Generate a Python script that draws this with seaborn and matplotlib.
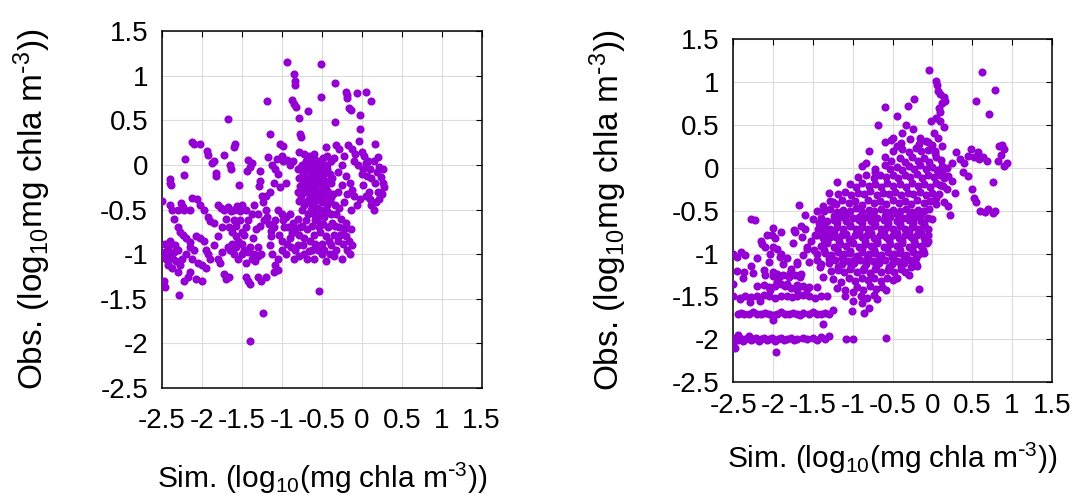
import matplotlib
matplotlib.use("Agg")
import matplotlib.pyplot as plt
import seaborn as sns
import pandas as pd

# (sim, obs) pairs, log10 mg chla m-3
left_points = [
    (-0.93, 1.16), (-0.51, 1.13), (-0.85, 1.02), (-0.84, 0.94), (-0.83, 0.9),
    (-0.33, 0.92), (-1.18, 0.72), (-0.87, 0.73), (-0.85, 0.68), (-0.82, 0.65),
    (-0.51, 0.76), (-0.67, 0.61), (-0.2, 0.82), (-0.19, 0.78), (-0.18, 0.75),
    (-0.06, 0.81), (0.05, 0.82), (0.12, 0.72), (-0.16, 0.64), (-0.13, 0.62),
    (-0.02, 0.56), (-0.79, 0.53), (-0.33, 0.48), (-1.68, 0.52), (-1.15, 0.35),
    (-0.77, 0.35), (-0.76, 0.31), (-0.02, 0.4), (-0.03, 0.27), (-1.02, 0.23),
    (-0.98, 0.21), (0.16, 0.23), (-2.13, 0.26), (-2.1, 0.23), (-2.02, 0.24),
    (-1.59, 0.23), (-1.6, 0.2), (-1.94, 0.16), (-1.92, 0.11),
    (-2.4, -0.16), (-2.4, -0.2), (-2.39, -0.22), (-2.21, 0.07), (-2.22, -0.11),
    (-1.85, 0.04), (-1.87, 0.02), (-1.82, -0.09), (-1.83, -0.12), (-1.73, 0.11),
    (-1.65, 0.0), (-1.64, -0.04), (-1.54, -0.22), (-1.42, 0.06), (-1.44, -0.07),
    (-1.4, -0.02), (-1.38, 0.02), (-1.27, -0.07), (-1.29, -0.24), (-1.28, -0.18),
    (-1.17, 0.09), (-1.06, 0.07), (-1.0, 0.1), (-0.98, 0.04), (-0.94, 0.06),
    (-0.9, 0.0), (-0.86, 0.05), (-1.12, 0.0), (-1.08, -0.05), (-1.05, -0.1),
    (-1.1, -0.2), (-1.02, -0.25), (-0.95, -0.2), (-1.15, -0.3), (-1.2, -0.35),
    (-0.79, 0.15), (-0.72, 0.12), (-0.66, 0.1), (-0.6, 0.12), (-0.53, 0.05),
    (-0.48, 0.08), (-0.45, 0.2), (-0.43, 0.0), (-0.8, -0.05), (-0.76, -0.02),
    (-0.72, -0.08), (-0.68, -0.03), (-0.64, -0.1), (-0.6, -0.05), (-0.56, -0.12),
    (-0.52, -0.08), (-0.48, -0.15), (-0.44, -0.05), (-0.4, -0.1), (-0.78, -0.15),
    (-0.74, -0.2), (-0.7, -0.16), (-0.66, -0.22), (-0.62, -0.18), (-0.58, -0.25),
    (-0.54, -0.2), (-0.5, -0.28), (-0.46, -0.22), (-0.42, -0.3), (-0.38, -0.2),
    (-0.8, -0.3), (-0.76, -0.35), (-0.7, -0.3), (-0.66, -0.38), (-0.62, -0.32),
    (-0.58, -0.4), (-0.54, -0.35), (-0.5, -0.42), (-0.46, -0.36), (-0.4, -0.4),
    (-0.36, -0.32), (-0.72, -0.45), (-0.64, -0.5), (-0.56, -0.48), (-0.6, -0.55),
    (-0.68, -0.25), (-0.52, -0.3), (-0.44, -0.45), (-0.74, -0.1), (-0.62, 0.02),
    (-0.56, 0.0), (-0.5, -0.02), (-0.7, 0.05),
    (-0.75, 0.0), (-0.71, -0.05), (-0.67, 0.03), (-0.63, -0.06), (-0.59, 0.06),
    (-0.55, -0.04), (-0.51, 0.02), (-0.47, -0.08), (-0.43, 0.1), (-0.39, 0.04),
    (-0.37, -0.14), (-0.77, -0.24), (-0.73, -0.27), (-0.69, -0.2), (-0.65, -0.3),
    (-0.61, -0.24), (-0.57, -0.32), (-0.53, -0.16), (-0.49, -0.34), (-0.45, -0.27),
    (-0.41, -0.18), (-0.39, -0.36), (-0.79, -0.4), (-0.75, -0.5), (-0.7, -0.42),
    (-0.67, -0.55), (-0.63, -0.44), (-0.59, -0.62), (-0.55, -0.56), (-0.51, -0.5),
    (-0.47, -0.58), (-0.43, -0.52), (-0.38, -0.55), (-0.34, -0.45),
    (-0.32, 0.22), (-0.28, 0.18), (-0.22, 0.1), (-0.25, 0.0), (-0.3, -0.08),
    (-0.2, -0.12), (-0.15, -0.2), (-0.25, -0.22), (-0.3, -0.3), (-0.18, -0.33),
    (-0.12, -0.28), (-0.22, -0.42), (-0.28, -0.48), (-0.14, -0.5), (-0.32, -0.55),
    (-0.1, 0.05), (-0.12, 0.18), (-0.08, 0.12), (-0.35, 0.08), (-0.17, 0.22),
    (-0.26, -0.6), (-0.2, -0.65),
    (0.0, 0.15), (0.03, 0.1), (0.05, 0.02), (0.1, -0.05), (0.0, -0.1),
    (0.07, -0.12), (0.12, -0.14), (0.02, -0.22), (0.15, 0.05), (0.2, 0.09),
    (0.22, -0.02), (0.24, -0.13), (0.26, -0.2), (0.28, -0.25), (0.25, -0.32),
    (0.22, -0.38), (0.18, -0.42), (0.12, -0.45), (0.15, -0.5), (0.05, -0.35),
    (-0.02, -0.38), (0.09, -0.3), (0.2, -0.3), (0.27, -0.05),
    (-0.1, -0.35), (-0.06, -0.45), (0.02, -0.05), (0.08, 0.05), (0.16, -0.2),
    (-0.05, 0.0), (0.1, -0.38), (0.19, -0.08),
    (-1.25, -0.35), (-1.23, -0.42), (-1.2, -0.5), (-1.18, -0.58), (-1.16, -0.66),
    (-1.13, -0.74), (-1.1, -0.7), (-1.05, -0.5), (-1.0, -0.55), (-0.98, -0.62),
    (-0.95, -0.58), (-0.92, -0.7), (-0.9, -0.55), (-0.86, -0.65), (-0.84, -0.72),
    (-0.8, -0.6), (-0.78, -0.78), (-0.75, -0.68), (-0.72, -0.82), (-0.68, -0.72),
    (-0.65, -0.85), (-0.62, -0.68), (-0.6, -0.78), (-0.56, -0.62), (-0.52, -0.75),
    (-0.48, -0.66), (-0.45, -0.8), (-0.42, -0.7), (-0.38, -0.9), (-0.35, -0.78),
    (-0.3, -0.85), (-0.28, -0.7), (-0.24, -0.88), (-0.2, -0.8), (-0.18, -0.95),
    (-0.14, -0.72), (-0.15, -1.0), (-0.25, -1.05), (-0.35, -1.02), (-0.32, -0.95),
    (-0.4, -1.0), (-0.5, -1.0), (-0.55, -0.95), (-0.6, -1.05), (-0.68, -1.05),
    (-0.72, -1.0), (-0.78, -1.02), (-0.85, -1.05), (-0.88, -0.92), (-0.95, -1.0),
    (-1.0, -0.95), (-1.05, -1.05), (-1.08, -1.12), (-1.12, -1.0), (-1.15, -0.9),
    (-1.0, -0.85), (-1.1, -1.2), (-1.05, -1.18), (-0.62, -0.95), (-0.45, -1.08),
    (-0.8, -0.9), (-0.9, -0.82),
    (-1.14, -0.8), (-1.08, -0.62), (-1.03, -0.78), (-0.97, -0.7), (-0.93, -0.88),
    (-0.87, -0.76), (-0.83, -0.95), (-0.77, -0.7), (-0.73, -0.9), (-0.7, -0.62),
    (-0.66, -0.96), (-0.58, -0.88), (-0.54, -0.7), (-0.5, -0.88), (-0.47, -0.95),
    (-0.41, -0.85), (-0.37, -0.65), (-0.33, -0.68), (-0.27, -0.78), (-0.22, -0.72),
    (-0.16, -0.85), (-0.12, -0.9),
    (-1.8, -0.45), (-1.76, -0.48), (-1.72, -0.5), (-1.68, -0.47), (-1.64, -0.52),
    (-1.6, -0.5), (-1.56, -0.46), (-1.52, -0.52), (-1.5, -0.45), (-1.7, -0.6),
    (-1.66, -0.7), (-1.62, -0.75), (-1.58, -0.8), (-1.55, -0.85), (-1.5, -0.88),
    (-1.48, -0.78), (-1.45, -0.7), (-1.42, -0.62), (-1.4, -0.92), (-1.36, -0.82),
    (-1.35, -1.0), (-1.32, -0.72), (-1.3, -0.92), (-1.65, -0.95), (-1.6, -1.0),
    (-1.55, -1.05), (-1.5, -1.0), (-1.45, -1.1), (-1.42, -0.98), (-1.38, -1.05),
    (-1.34, -1.08), (-1.3, -1.02), (-1.26, -1.0), (-1.75, -0.98), (-1.8, -1.05),
    (-1.78, -1.1), (-1.72, -1.22), (-1.7, -1.28), (-1.66, -1.25), (-1.45, -1.25),
    (-1.43, -1.3), (-1.4, -1.33), (-1.3, -1.25), (-1.26, -1.3), (-1.2, -1.25),
    (-1.6, -0.62), (-1.38, -0.55),
    (-1.35, -0.45), (-1.3, -0.55), (-1.22, -0.62), (-1.28, -0.68), (-1.45, -0.5),
    (-1.52, -0.62), (-1.57, -0.68), (-1.5, -0.75), (-1.47, -0.95), (-1.57, -0.92),
    (-1.62, -0.88), (-1.68, -0.92), (-1.85, -0.65), (-1.8, -0.8), (-1.75, -0.7),
    (-2.5, -0.4), (-2.4, -0.45), (-2.38, -0.5), (-2.26, -0.43), (-2.24, -0.47),
    (-2.22, -0.5), (-2.12, -0.37), (-2.06, -0.38), (-2.02, -0.45), (-1.98, -0.5),
    (-1.93, -0.58), (-1.9, -0.63), (-2.3, -0.7), (-2.28, -0.75), (-2.24, -0.78),
    (-2.2, -0.82), (-2.15, -0.86), (-2.5, -1.0), (-2.46, -0.97), (-2.44, -1.02),
    (-2.42, -0.92), (-2.4, -1.0), (-2.36, -1.05), (-2.32, -1.08), (-2.28, -1.12),
    (-2.25, -1.05), (-2.42, -1.12), (-2.38, -1.15), (-2.46, -0.88), (-2.4, -0.85),
    (-2.34, -0.9), (-2.15, -0.92), (-2.1, -0.95), (-2.08, -0.8), (-2.02, -0.82),
    (-1.98, -0.85), (-1.95, -0.95), (-2.05, -1.1), (-2.0, -1.12), (-1.95, -1.15),
    (-2.15, -1.2), (-2.08, -1.28), (-2.0, -1.3), (-2.22, -1.3), (-2.48, -1.3),
    (-2.46, -1.37), (-2.29, -1.46), (-1.92, -1.0), (-1.9, -1.05), (-1.85, -0.9),
    (-2.3, -1.2), (-2.18, -1.25),
    (-2.45, -1.05), (-2.35, -0.98), (-2.3, -0.95), (-2.2, -1.0), (-2.12, -1.05),
    (-2.35, -0.6), (-2.3, -0.5), (-2.15, -0.5),
    (-1.23, -1.66), (-1.4, -1.97), (-0.54, -1.41),
]

right_points = [
    # flat rows at the detection floor
    (-2.5, -2.0), (-2.47, -1.98), (-2.44, -2.01), (-2.41, -1.99), (-2.38, -2.02),
    (-2.35, -2.0), (-2.32, -1.98), (-2.28, -2.01), (-2.25, -2.0), (-2.22, -1.99),
    (-2.18, -2.02), (-2.15, -2.0), (-2.12, -1.98), (-2.08, -2.01), (-2.05, -2.0),
    (-2.01, -1.99), (-1.98, -2.02), (-1.94, -2.0), (-1.9, -1.98), (-1.86, -2.01),
    (-1.82, -2.0), (-1.78, -1.99), (-1.74, -2.01), (-1.7, -2.0), (-1.62, -1.98),
    (-1.58, -2.0), (-1.5, -1.99), (-1.45, -2.01), (-1.4, -1.97), (-1.35, -2.0),
    (-1.3, -1.96), (-1.08, -2.0), (-1.0, -2.0),
    (-2.5, -2.07), (-2.48, -2.1), (-1.97, -2.15), (-2.44, -1.95), (-2.3, -1.96),
    (-2.44, -1.7), (-2.4, -1.69), (-2.36, -1.71), (-2.3, -1.7), (-2.25, -1.68),
    (-2.2, -1.7), (-2.15, -1.71), (-2.1, -1.69), (-2.05, -1.7), (-2.0, -1.72),
    (-1.95, -1.7), (-1.9, -1.68), (-1.85, -1.7), (-1.8, -1.71), (-1.75, -1.69),
    (-1.7, -1.7), (-1.66, -1.72), (-1.62, -1.69), (-1.55, -1.7), (-1.5, -1.68),
    (-1.45, -1.7), (-1.4, -1.71), (-1.35, -1.69), (-1.3, -1.7), (-1.25, -1.66),
    (-1.01, -1.67), (-0.86, -1.69), (-0.8, -1.63), (-1.38, -1.82), (-2.0, -1.78),
    (-2.5, -1.5), (-2.42, -1.52), (-2.35, -1.49), (-2.28, -1.51), (-2.2, -1.5),
    (-2.12, -1.48), (-2.05, -1.5), (-1.98, -1.52), (-1.9, -1.5), (-1.82, -1.49),
    (-1.76, -1.51), (-1.7, -1.5), (-1.62, -1.48), (-1.55, -1.5), (-1.48, -1.52),
    (-1.4, -1.5), (-1.32, -1.49), (-1.1, -1.5), (-1.0, -1.55), (-0.88, -1.58),
    (-2.2, -1.38), (-2.12, -1.37), (-2.05, -1.39), (-1.98, -1.38), (-1.9, -1.36),
    (-1.85, -1.38), (-1.78, -1.4), (-1.7, -1.37), (-1.62, -1.38), (-1.55, -1.39),
    (-2.1, -1.25), (-2.0, -1.26), (-1.95, -1.24), (-1.88, -1.25), (-1.8, -1.27),
    (-1.72, -1.25), (-1.65, -1.24),
    # scattered low-sim points
    (-2.5, -1.0), (-2.4, -0.98), (-2.35, -1.02), (-2.28, -0.6), (-2.28, -1.15),
    (-2.2, -1.05), (-2.15, -0.85), (-2.1, -0.92), (-2.05, -1.1), (-2.02, -0.78),
    (-1.98, -0.82), (-1.95, -0.95), (-1.9, -1.0), (-1.88, -1.12), (-1.82, -1.05),
    (-1.78, -1.18), (-1.75, -0.88), (-1.72, -0.75), (-1.68, -0.43), (-1.65, -0.68),
    (-1.6, -0.72), (-1.58, -0.95), (-1.55, -1.1), (-1.52, -0.85), (-1.5, -0.6),
    (-1.48, -0.78), (-1.45, -1.0), (-1.42, -0.65), (-1.4, -1.12), (-1.38, -0.9),
    (-1.35, -0.75), (-2.45, -1.2), (-2.5, -1.35), (-2.38, -1.28), (-2.0, -0.7),
    (-1.9, -0.75), (-1.62, -1.02), (-1.7, -1.1), (-1.6, -0.55), (-1.45, -0.5),
    (-1.38, -0.45), (-1.3, -0.3), (-1.25, -0.4), (-1.2, -0.17),
    (-2.45, -1.04), (-2.23, -0.61), (-2.14, -0.89), (-2.08, -0.79), (-2.0, -0.92),
    (-2.04, -1.0), (-1.91, -1.04), (-2.37, -1.21), (-2.25, -1.23), (-2.12, -1.19),
    (-2.0, -1.21), (-1.93, -1.27), (-1.79, -1.23), (-1.66, -1.27), (-1.7, -1.12),
    (-1.74, -0.73), (-1.64, -0.81), (-1.58, -0.92), (-1.49, -0.96), (-1.45, -1.08),
    (-1.41, -1.16), (-1.37, -1.27), (-1.45, -1.39), (-1.58, -1.41), (-1.7, -1.43),
    (-1.83, -1.35), (-1.95, -1.33), (-2.04, -1.43), (-2.16, -1.55), (-2.29, -1.56),
    (-2.41, -1.53), (-1.33, -0.73), (-1.29, -0.81),
    # main cloud
    (-0.52, 0.32), (-0.4, 0.29), (-0.28, 0.33), (-0.17, 0.28), (-0.08, 0.31),
    (-0.01, 0.27),
    (-0.49, 0.19), (-0.38, 0.22), (-0.3, 0.18), (-0.21, 0.23), (-0.14, 0.19),
    (-0.06, 0.21), (0.03, 0.17),
    (-0.6, 0.12), (-0.52, 0.08), (-0.41, 0.11), (-0.34, 0.07), (-0.26, 0.12),
    (-0.18, 0.08), (-0.11, 0.11), (-0.04, 0.07), (0.05, 0.12), (0.11, 0.09),
    (-0.88, 0.02), (-0.72, -0.01), (-0.6, 0.03), (-0.53, -0.02), (-0.45, 0.01),
    (-0.38, -0.03), (-0.3, 0.02), (-0.23, -0.01), (-0.15, 0.03), (-0.08, -0.02),
    (-0.01, 0.01), (0.06, -0.03), (0.12, 0.02),
    (-0.94, -0.11), (-0.83, -0.08), (-0.74, -0.12), (-0.66, -0.09), (-0.58, -0.11),
    (-0.5, -0.08), (-0.43, -0.12), (-0.35, -0.09), (-0.28, -0.11), (-0.2, -0.07),
    (-0.13, -0.12), (-0.05, -0.09), (0.02, -0.11), (0.09, -0.08), (0.15, -0.12),
    (-1.04, -0.19), (-0.96, -0.22), (-0.88, -0.18), (-0.8, -0.21), (-0.72, -0.19),
    (-0.64, -0.23), (-0.57, -0.18), (-0.49, -0.21), (-0.41, -0.19), (-0.33, -0.22),
    (-0.26, -0.18), (-0.18, -0.21), (-0.1, -0.19), (-0.03, -0.22), (0.05, -0.18),
    (0.13, -0.21),
    (-1.19, -0.31), (-1.1, -0.28), (-1.02, -0.32), (-0.94, -0.29), (-0.86, -0.31),
    (-0.78, -0.27), (-0.7, -0.32), (-0.62, -0.29), (-0.55, -0.31), (-0.47, -0.28),
    (-0.39, -0.32), (-0.31, -0.29), (-0.24, -0.31), (-0.16, -0.28), (-0.08, -0.32),
    (0.0, -0.29), (0.08, -0.31),
    (-1.29, -0.39), (-1.21, -0.42), (-1.13, -0.38), (-1.05, -0.41), (-0.97, -0.39),
    (-0.89, -0.43), (-0.81, -0.38), (-0.73, -0.41), (-0.66, -0.39), (-0.58, -0.42),
    (-0.5, -0.38), (-0.42, -0.41), (-0.34, -0.39), (-0.27, -0.42), (-0.19, -0.38),
    (-0.11, -0.41), (-0.03, -0.39), (0.04, -0.42),
    (-1.36, -0.51), (-1.28, -0.48), (-1.2, -0.52), (-1.12, -0.49), (-1.04, -0.51),
    (-0.96, -0.47), (-0.88, -0.52), (-0.8, -0.49), (-0.73, -0.51), (-0.65, -0.48),
    (-0.57, -0.52), (-0.49, -0.49), (-0.41, -0.51), (-0.33, -0.48), (-0.26, -0.52),
    (-0.18, -0.49), (-0.1, -0.51), (-0.04, -0.48),
    (-1.24, -0.56), (-1.08, -0.55), (-0.92, -0.57), (-0.76, -0.55), (-0.6, -0.56),
    (-0.45, -0.54), (-0.3, -0.56), (-0.14, -0.55),
    (-1.4, -0.59), (-1.32, -0.62), (-1.24, -0.61), (-1.16, -0.58), (-1.08, -0.62),
    (-1.0, -0.59), (-0.92, -0.61), (-0.84, -0.58), (-0.77, -0.62), (-0.69, -0.59),
    (-0.61, -0.61), (-0.53, -0.58), (-0.45, -0.62), (-0.37, -0.59), (-0.3, -0.61),
    (-0.22, -0.58), (-0.14, -0.62), (-0.06, -0.59),
    (-1.36, -0.66), (-1.2, -0.65), (-1.04, -0.67), (-0.88, -0.65), (-0.72, -0.66),
    (-0.56, -0.64), (-0.41, -0.66), (-0.25, -0.65), (-0.1, -0.66),
    (-1.44, -0.71), (-1.36, -0.68), (-1.28, -0.72), (-1.2, -0.69), (-1.12, -0.71),
    (-1.04, -0.68), (-0.96, -0.72), (-0.88, -0.69), (-0.81, -0.71), (-0.73, -0.68),
    (-0.65, -0.72), (-0.57, -0.69), (-0.49, -0.71), (-0.41, -0.68), (-0.34, -0.72),
    (-0.26, -0.69), (-0.18, -0.71), (-0.1, -0.68), (-0.05, -0.72),
    (-1.4, -0.76), (-1.24, -0.75), (-1.08, -0.77), (-0.92, -0.75), (-0.77, -0.76),
    (-0.61, -0.74), (-0.45, -0.76), (-0.3, -0.75), (-0.14, -0.76),
    (-1.45, -0.79), (-1.37, -0.82), (-1.29, -0.78), (-1.21, -0.81), (-1.13, -0.79),
    (-1.05, -0.83), (-0.97, -0.78), (-0.89, -0.81), (-0.82, -0.79), (-0.74, -0.82),
    (-0.66, -0.78), (-0.58, -0.81), (-0.5, -0.79), (-0.42, -0.82), (-0.35, -0.78),
    (-0.27, -0.81), (-0.19, -0.79), (-0.11, -0.82), (-0.06, -0.78),
    (-1.33, -0.86), (-1.17, -0.85), (-1.01, -0.87), (-0.85, -0.85), (-0.7, -0.86),
    (-0.54, -0.84), (-0.38, -0.86), (-0.23, -0.85), (-0.09, -0.86),
    (-1.4, -0.91), (-1.32, -0.88), (-1.24, -0.92), (-1.16, -0.89), (-1.08, -0.91),
    (-1.0, -0.88), (-0.92, -0.92), (-0.85, -0.89), (-0.77, -0.91), (-0.69, -0.88),
    (-0.61, -0.92), (-0.53, -0.89), (-0.45, -0.91), (-0.38, -0.88), (-0.3, -0.92),
    (-0.22, -0.89), (-0.14, -0.91), (-0.07, -0.88),
    (-1.36, -0.96), (-1.2, -0.95), (-1.04, -0.97), (-0.88, -0.95), (-0.73, -0.96),
    (-0.57, -0.94), (-0.41, -0.96), (-0.26, -0.95), (-0.12, -0.96),
    (-1.35, -0.99), (-1.27, -1.02), (-1.19, -0.98), (-1.11, -1.01), (-1.03, -0.99),
    (-0.95, -1.03), (-0.88, -0.98), (-0.8, -1.01), (-0.72, -0.99), (-0.64, -1.02),
    (-0.56, -0.98), (-0.48, -1.01), (-0.41, -0.99), (-0.33, -1.02), (-0.25, -0.98),
    (-0.17, -1.01), (-0.1, -0.99),
    (-1.3, -1.06), (-1.14, -1.05), (-0.98, -1.07), (-0.82, -1.05), (-0.67, -1.06),
    (-0.51, -1.04), (-0.36, -1.06), (-0.21, -1.05),
    (-1.3, -1.11), (-1.22, -1.08), (-1.14, -1.12), (-1.06, -1.09), (-0.98, -1.11),
    (-0.91, -1.08), (-0.83, -1.12), (-0.75, -1.09), (-0.67, -1.11), (-0.59, -1.08),
    (-0.51, -1.12), (-0.44, -1.09), (-0.36, -1.11), (-0.28, -1.08), (-0.21, -1.12),
    (-1.18, -1.16), (-1.02, -1.15), (-0.86, -1.17), (-0.71, -1.15), (-0.55, -1.16),
    (-0.4, -1.14), (-0.27, -1.16),
    (-1.27, -1.2), (-1.19, -1.19), (-1.11, -1.22), (-1.03, -1.18), (-0.95, -1.21),
    (-0.87, -1.19), (-0.79, -1.23), (-0.72, -1.18), (-0.64, -1.21), (-0.56, -1.19),
    (-0.48, -1.22), (-0.4, -1.18), (-0.34, -1.21),
    (-1.25, -1.3), (-1.15, -1.33), (-1.05, -1.29), (-0.97, -1.32), (-0.89, -1.28),
    (-0.81, -1.31), (-0.73, -1.29), (-0.65, -1.32), (-0.57, -1.28), (-0.5, -1.31),
    (-0.44, -1.29),
    (-1.2, -1.4), (-1.1, -1.42), (-0.95, -1.39), (-0.87, -1.42), (-0.79, -1.38),
    (-0.71, -1.41), (-0.63, -1.39), (-0.58, -1.42),
    (-1.0, -1.45), (-0.9, -1.49), (-0.82, -1.52), (-0.74, -1.48), (-0.7, -1.53),
    # upper and right scatter
    (-0.84, 0.06), (-0.59, 0.71), (-0.68, 0.5), (-0.44, 0.6), (-0.31, 0.72),
    (-0.23, 0.8), (-0.33, 0.5), (-0.8, 0.2), (-0.72, -0.05), (-0.6, 0.3),
    (-0.5, 0.35), (-0.45, 0.25), (-0.38, 0.4), (-0.25, 0.45), (-0.15, 0.35),
    (-0.05, 0.3), (-0.02, 0.55),
    (-0.04, 1.14), (0.05, 1.01), (0.06, 0.97), (0.07, 0.9), (0.1, 0.86),
    (0.14, 0.82), (0.16, 0.78), (0.12, 0.75), (0.08, 0.7), (0.09, 0.65),
    (0.05, 0.58), (0.1, 0.55), (0.15, 0.47), (0.02, 0.4), (0.07, 0.35),
    (0.12, 0.25), (0.03, 0.2),
    (0.62, 1.12), (0.78, 0.91), (0.55, 0.78), (0.71, 0.63),
    (0.45, 0.14), (0.52, 0.13), (0.58, 0.1), (0.63, 0.12), (0.68, 0.08),
    (0.57, 0.18), (0.48, 0.22), (0.4, 0.05),
    (0.83, 0.25), (0.87, 0.26), (0.9, 0.22), (0.86, 0.15), (0.93, 0.05),
    (0.9, 0.02), (0.82, 0.08),
    (0.76, -0.17), (0.6, -0.5), (0.66, -0.52), (0.76, -0.53), (0.78, -0.5),
    (0.7, -0.48),
    (0.3, 0.18), (0.35, 0.1), (0.38, -0.05), (0.45, -0.1), (0.5, -0.25),
    (0.52, -0.35), (0.55, -0.4), (0.25, -0.15), (0.2, -0.1), (0.18, -0.25),
    (0.15, -0.4), (0.2, -0.45), (0.22, -0.55), (0.28, -0.3), (0.1, -0.2),
    (0.12, -0.05), (0.18, 0.0), (0.25, 0.05),
    (-0.17, -1.41), (-0.58, -1.98), (-0.3, -1.25), (-0.2, -1.15), (-0.05, -0.85),
    (0.0, -0.6), (0.05, -0.35),
]

ticks = [-2.5, -2, -1.5, -1, -0.5, 0, 0.5, 1, 1.5]
tick_labels = ["-2.5", "-2", "-1.5", "-1", "-0.5", "0", "0.5", "1", "1.5"]
xlabel = r"Sim. (log$_{10}$(mg chla m$^{\text{-}3}$))"
ylabel = r"Obs. (log$_{10}$mg chla m$^{\text{-}3}$))"
point_color = "#9400d3"

sns.set_style("white")
plt.rcParams["font.family"] = ["Liberation Sans", "DejaVu Sans"]
plt.rcParams["mathtext.default"] = "regular"
for key in ["text.color", "axes.labelcolor", "xtick.color", "ytick.color"]:
    plt.rcParams[key] = "black"

fig = plt.figure(figsize=(10.8, 4.95), dpi=100)
ax1 = fig.add_axes([0.150, 0.216, 0.296, 0.721])
ax2 = fig.add_axes([0.679, 0.228, 0.295, 0.693])

panels = [
    (ax1, left_points, 14, -0.405, -0.252),
    (ax2, right_points, 8, -0.394, -0.222),
]

for ax, pts, xpad, ylab_x, xlab_y in panels:
    df = pd.DataFrame(pts, columns=["sim", "obs"])
    sns.scatterplot(data=df, x="sim", y="obs", ax=ax, color=point_color,
                    s=34, linewidth=0, legend=False, zorder=3)
    ax.set_xlim(-2.5, 1.5)
    ax.set_ylim(-2.5, 1.5)
    ax.set_xticks(ticks)
    ax.set_xticklabels(tick_labels)
    ax.set_yticks(ticks)
    ax.set_yticklabels(tick_labels)
    ax.grid(True, color="#dcdcdc", lw=0.8)
    ax.set_axisbelow(True)
    ax.tick_params(direction="in", top=True, right=True, length=4, width=0.8,
                   labelsize=20, colors="black")
    ax.tick_params(axis="x", pad=xpad)
    ax.tick_params(axis="y", pad=10)
    for sp in ax.spines.values():
        sp.set_color("black")
        sp.set_linewidth(1.1)
    ax.set_xlabel(xlabel, fontsize=21.5)
    ax.set_ylabel(ylabel, fontsize=24)
    ax.xaxis.set_label_coords(0.5, xlab_y)
    ax.xaxis.label.set_va("center")
    ax.yaxis.set_label_coords(ylab_x, 0.5)
    ax.yaxis.label.set_va("center")

fig.savefig("out.png", dpi=100)
